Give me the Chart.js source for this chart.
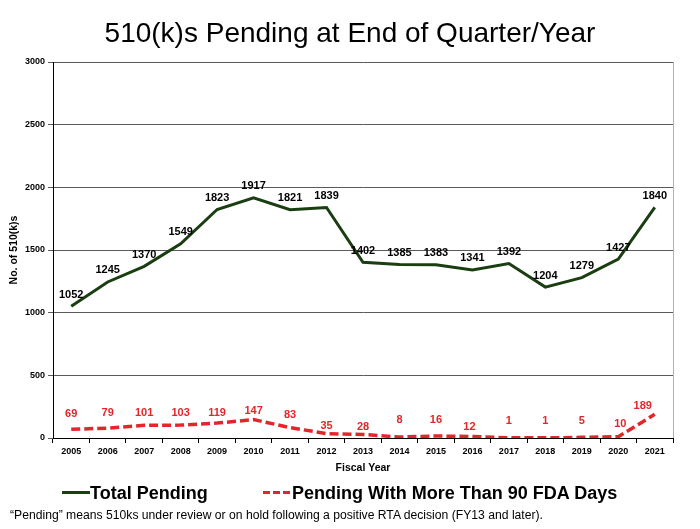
<!DOCTYPE html>
<html>
<head>
<meta charset="utf-8">
<script src="https://cdn.jsdelivr.net/npm/chart.js@4/dist/chart.umd.min.js"></script>
<style>
  html, body { margin: 0; padding: 0; background: #fff; }
  #wrap { position: relative; width: 700px; height: 529px; overflow: hidden; font-family: "Liberation Sans", Arial, sans-serif; }
  #c { position: absolute; left: 0; top: 0; }
  .abs { position: absolute; white-space: nowrap; }
  #title { left: 0; width: 700px; top: 16px; text-align: center; font-size: 28px; line-height: 34px; color: #000; }
  .leg { font-weight: bold; font-size: 18px; line-height: 22px; color: #000; top: 482px; }
  #fn { left: 10px; top: 507px; font-size: 12px; line-height: 16px; color: #000; transform-origin: left center; display: inline-block; }
</style>
</head>
<body>
<div id="wrap">
  <canvas id="c" width="700" height="529"></canvas>
  <div id="title" class="abs">510(k)s Pending at End of Quarter/Year</div>
  <div class="abs" style="left:62px; top:491px; width:28px; height:3px; background:#1b3d12;"></div>
  <div class="abs leg" style="left:90px;">Total Pending</div>
  <div class="abs" style="left:263px; top:491px; width:28px; height:3px; background:repeating-linear-gradient(to right, #e3262b 0 7px, transparent 7px 10px);"></div>
  <div class="abs leg" style="left:292px;">Pending With More Than 90 FDA Days</div>
  <div id="fn" class="abs">“Pending” means 510ks under review or on hold following a positive RTA decision (FY13 and later).</div>
</div>
<script>
const years = ['2005','2006','2007','2008','2009','2010','2011','2012','2013','2014','2015','2016','2017','2018','2019','2020','2021'];
const totalPending = [1052,1245,1370,1549,1823,1917,1821,1839,1402,1385,1383,1341,1392,1204,1279,1427,1840];
const over90Days = [69,79,101,103,119,147,83,35,28,8,16,12,1,1,5,10,189];
const yTickStep = 500;
const yMax = 3000;

// label placement tweaks (pixels) for the red series labels
const redLabelDy = [15,15,12,12,10,9,13,8,8,17,16,10,17,17,16,13,8];
const redLabelDx = [0,0,0,0,0,0,0,0,0,0,0,-3,0,0,0,2,-12];

const GREEN = '#1b3d12';
const RED = '#e3262b';

const labelPlugin = {
  id: 'valueLabels',
  beforeDatasetsDraw(chart) {
    const {ctx, chartArea} = chart;
    ctx.save();
    ctx.strokeStyle = '#b0b0b0';
    ctx.lineWidth = 1;
    ctx.beginPath();
    ctx.moveTo(chartArea.right + 0.5, chartArea.top);
    ctx.lineTo(chartArea.right + 0.5, chartArea.bottom);
    ctx.stroke();
    ctx.restore();
  },
  afterDatasetsDraw(chart) {
    const {ctx} = chart;
    ctx.save();
    ctx.font = 'bold 11px "Liberation Sans", Arial, sans-serif';
    ctx.textAlign = 'center';
    ctx.textBaseline = 'middle';
    const m0 = chart.getDatasetMeta(0);
    ctx.fillStyle = '#000';
    m0.data.forEach((pt, i) => {
      ctx.fillText(String(totalPending[i]), pt.x, pt.y - 11.5);
    });
    const m1 = chart.getDatasetMeta(1);
    ctx.fillStyle = RED;
    m1.data.forEach((pt, i) => {
      ctx.fillText(String(over90Days[i]), pt.x + redLabelDx[i], pt.y - redLabelDy[i]);
    });
    ctx.restore();
  }
};

const tickFont = { family: '"Liberation Sans", Arial, sans-serif', size: 9, weight: 'bold' };
const titleFont = { family: '"Liberation Sans", Arial, sans-serif', size: 10.5, weight: 'bold' };

new Chart(document.getElementById('c'), {
  type: 'line',
  data: {
    labels: years,
    datasets: [
      { label: 'Total Pending', data: totalPending, borderColor: GREEN, backgroundColor: GREEN,
        borderWidth: 3, pointRadius: 0, tension: 0, fill: false },
      { label: 'Pending With More Than 90 FDA Days', data: over90Days, borderColor: RED, backgroundColor: RED,
        borderWidth: 3.5, borderDash: [9, 4], pointRadius: 0, tension: 0, fill: false }
    ]
  },
  options: {
    responsive: false,
    devicePixelRatio: 1,
    animation: false,
    layout: { padding: { left: 0, right: 27, top: 62, bottom: 51 } },
    plugins: { legend: { display: false }, title: { display: false }, tooltip: { enabled: false } },
    scales: {
      x: {
        type: 'category',
        offset: true,
        afterFit(s) { s.height = 40; },
        grid: { offset: true, drawOnChartArea: false, drawTicks: true, tickLength: 5, color: '#000' },
        border: { color: '#000', width: 1 },
        ticks: { font: tickFont, color: '#000', padding: 3, maxRotation: 0, autoSkip: false },
        title: { display: true, text: 'Fiscal Year', font: titleFont, color: '#000', padding: { top: 0, bottom: 4 } }
      },
      y: {
        min: 0, max: yMax,
        afterFit(s) { s.width = 53; },
        grid: { color: '#5a5a5a', lineWidth: 1, tickLength: 5 },
        border: { color: '#000', width: 1 },
        ticks: { stepSize: yTickStep, font: tickFont, color: '#000', padding: 3, callback: v => String(v) },
        title: { display: true, text: 'No. of 510(k)s', font: titleFont, color: '#000', padding: { top: 8, bottom: 0 } }
      }
    }
  },
  plugins: [labelPlugin]
});

// fit the footnote to its width in the reference
(function () {
  const fn = document.getElementById('fn');
  const w = fn.getBoundingClientRect().width;
  if (w > 0) fn.style.transform = 'scaleX(' + (533 / w) + ')';
})();
</script>
</body>
</html>
